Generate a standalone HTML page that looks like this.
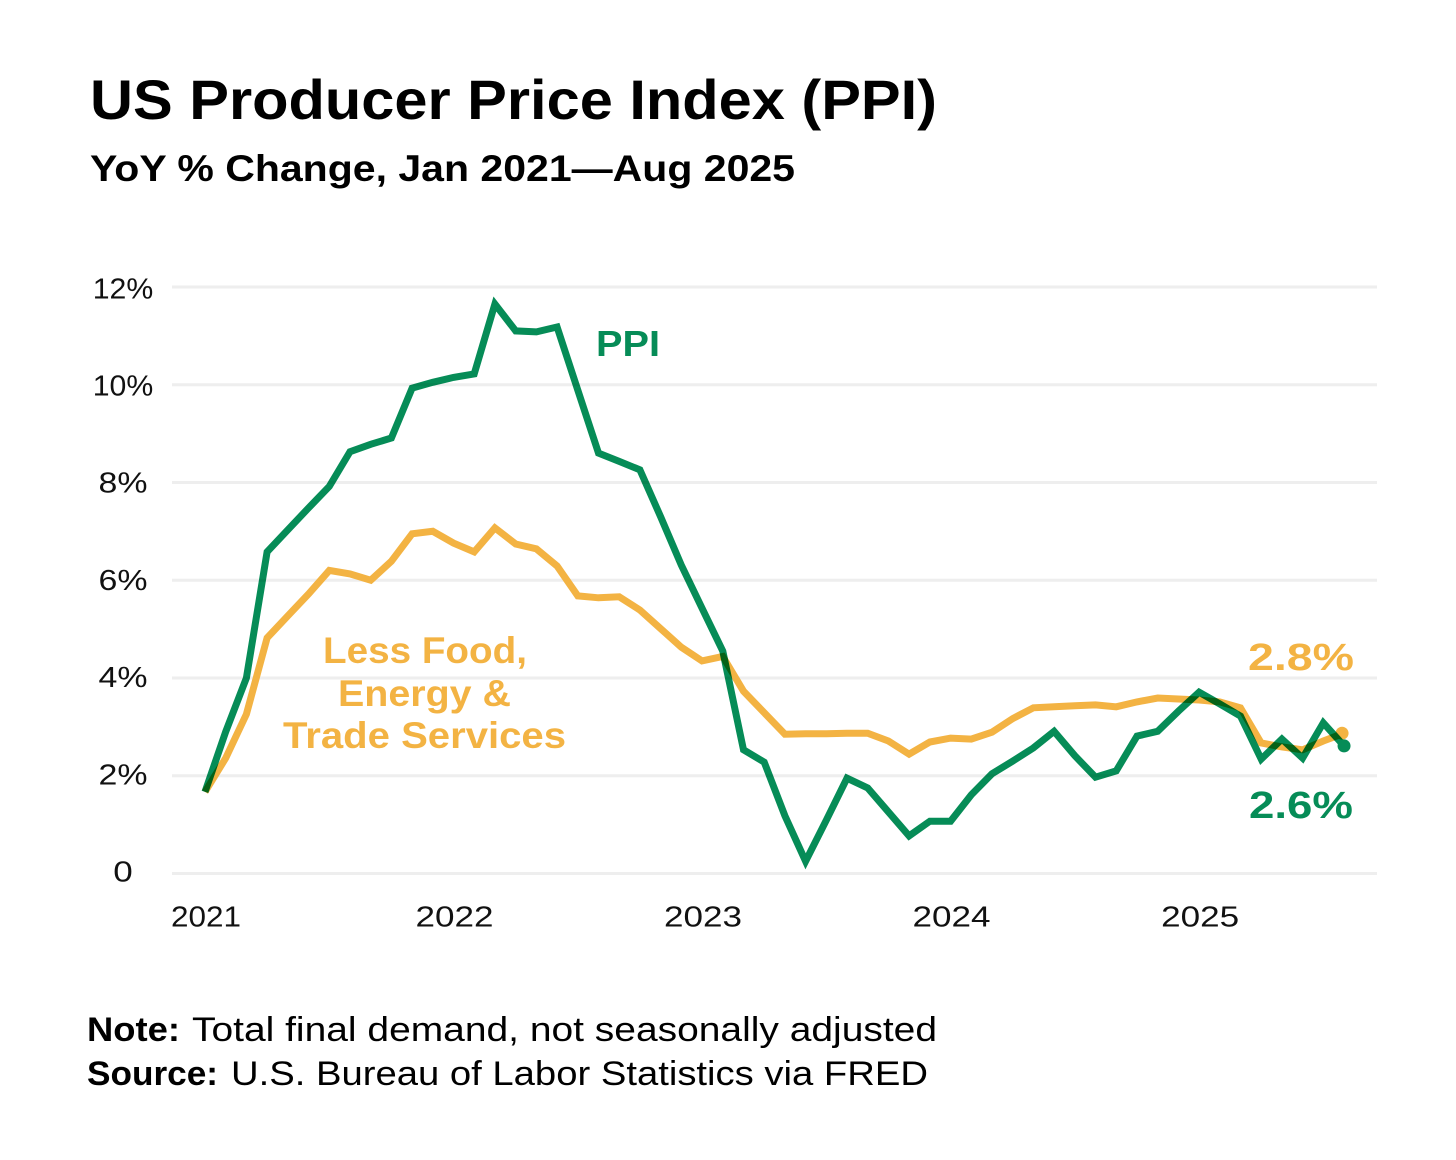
<!DOCTYPE html>
<html lang="en">
<head>
<meta charset="utf-8">
<title>US Producer Price Index (PPI)</title>
<style>
  html, body { margin: 0; padding: 0; background: #ffffff; }
  svg { display: block; }
  text { font-family: "Liberation Sans", sans-serif; }
  .bold { font-weight: 700; }
  .tick { font-size: 29px; fill: #111111; }
</style>
</head>
<body>
<svg id="chart" xmlns="http://www.w3.org/2000/svg" width="1456" height="1160" viewBox="0 0 1456 1160">
  <rect x="0" y="0" width="1456" height="1160" fill="#ffffff"/>
  <text class="bold" x="90" y="119" font-size="56" fill="#000000" textLength="847" lengthAdjust="spacingAndGlyphs">US Producer Price Index (PPI)</text>
  <text class="bold" x="90" y="181" font-size="37" fill="#000000" textLength="705" lengthAdjust="spacingAndGlyphs">YoY % Change, Jan 2021—Aug 2025</text>
  <g id="grid"></g>
  <g id="y-ticks"></g>
  <g id="x-ticks"></g>
  <g id="series"></g>
  <text class="bold" x="596" y="356" font-size="36" fill="#068c57" textLength="64" lengthAdjust="spacingAndGlyphs">PPI</text>
  <text class="bold" x="323" y="663" font-size="37" fill="#f3b343" textLength="204" lengthAdjust="spacingAndGlyphs">Less Food,</text>
  <text class="bold" x="338" y="706" font-size="37" fill="#f3b343" textLength="173" lengthAdjust="spacingAndGlyphs">Energy &amp;</text>
  <text class="bold" x="283" y="748" font-size="37" fill="#f3b343" textLength="283" lengthAdjust="spacingAndGlyphs">Trade Services</text>
  <text class="bold" x="1248" y="670" font-size="38" fill="#f3b343" textLength="106" lengthAdjust="spacingAndGlyphs">2.8%</text>
  <text class="bold" x="1249" y="818" font-size="38" fill="#068c57" textLength="104" lengthAdjust="spacingAndGlyphs">2.6%</text>
  <text class="bold" x="87" y="1041" font-size="34" fill="#000000" textLength="93" lengthAdjust="spacingAndGlyphs">Note:</text>
  <text x="192" y="1041" font-size="34" fill="#000000" textLength="745" lengthAdjust="spacingAndGlyphs">Total final demand, not seasonally adjusted</text>
  <text class="bold" x="87" y="1085" font-size="34" fill="#000000" textLength="131" lengthAdjust="spacingAndGlyphs">Source:</text>
  <text x="231" y="1085" font-size="34" fill="#000000" textLength="697" lengthAdjust="spacingAndGlyphs">U.S. Bureau of Labor Statistics via FRED</text>
</svg>
<script>
const yTickValues = [0, 2, 4, 6, 8, 10, 12];
const yTickLabels = ["0", "2%", "4%", "6%", "8%", "10%", "12%"];
const xTickMonths = [0, 12, 24, 36, 48];
const xTickLabels = ["2021", "2022", "2023", "2024", "2025"];
const ppiValues = [
  1.67, 2.9, 4.0, 6.58, 7.03, 7.48, 7.92, 8.63, 8.78, 8.91, 9.93, 10.05,
  10.15, 10.22, 11.65, 11.1, 11.08, 11.18, 9.89, 8.6, 8.43, 8.26, 7.3, 6.31,
  5.43, 4.55, 2.53, 2.28, 1.18, 0.25, 1.09, 1.95, 1.75, 1.26, 0.77, 1.07,
  1.07, 1.61, 2.04, 2.3, 2.57, 2.91, 2.41, 1.97, 2.1, 2.81, 2.91, 3.32,
  3.71, 3.47, 3.22, 2.34, 2.75, 2.36, 3.08, 2.61
];
const coreValues = [
  1.67, 2.36, 3.26, 4.82, 5.27, 5.72, 6.2, 6.13, 6.0, 6.39, 6.95, 7.0,
  6.76, 6.58, 7.07, 6.74, 6.64, 6.29, 5.68, 5.64, 5.66, 5.39, 5.01, 4.63,
  4.35, 4.44, 3.73, 3.29, 2.85, 2.86, 2.86, 2.87, 2.87, 2.71, 2.44, 2.69,
  2.77, 2.75, 2.89, 3.17, 3.39, 3.41, 3.43, 3.45, 3.41, 3.51, 3.59, 3.57,
  3.55, 3.51, 3.39, 2.67, 2.59, 2.53, 2.71, 2.87
];

const SVG_NS = "http://www.w3.org/2000/svg";
const plotLeft = 172, plotRight = 1377;
const xStart = 205, monthStep = 20.71;
const yZero = 873.5, unitHeight = 48.88;
const xScale = function (m) { return xStart + monthStep * m; };
const yScale = function (v) { return yZero - unitHeight * v; };
const yLabelScale = function (v) { return 881.5 - 48.6 * v; };

function make(tag, attrs, parent) {
  const el = document.createElementNS(SVG_NS, tag);
  Object.keys(attrs).forEach(function (k) { el.setAttribute(k, attrs[k]); });
  parent.appendChild(el);
  return el;
}
function labelWidth(label) {
  let w = 0;
  for (const c of label) { w += c === "1" ? 11.5 : c === "%" ? 29.5 : 19.5; }
  return w;
}

const gridGroup = document.getElementById("grid");
const yGroup = document.getElementById("y-ticks");
const xGroup = document.getElementById("x-ticks");
const seriesGroup = document.getElementById("series");

yTickValues.forEach(function (v, i) {
  const line = make("line", { x1: plotLeft, x2: plotRight, y1: yScale(v), y2: yScale(v), stroke: "#eeeeee", "stroke-width": 3 }, gridGroup);
  
  
  const t = make("text", { x: 123, y: yLabelScale(v), "text-anchor": "middle", class: "tick", textLength: labelWidth(yTickLabels[i]), lengthAdjust: "spacingAndGlyphs" }, yGroup);
  
  
  t.textContent = yTickLabels[i];
});

xTickMonths.forEach(function (m, i) {
  const t = make("text", { x: xScale(m) + 1, y: 926.5, "text-anchor": "middle", class: "tick", textLength: labelWidth(xTickLabels[i]), lengthAdjust: "spacingAndGlyphs" }, xGroup);
  
  
  t.textContent = xTickLabels[i];
});

function pointsOf(values) {
  return values.map(function (v, i) { return xScale(i).toFixed(1) + "," + yScale(v).toFixed(1); }).join(" ");
}

const coreLine = make("polyline", { points: pointsOf(coreValues), fill: "none", stroke: "#f3b343", "stroke-width": 7, "stroke-linejoin": "miter", "stroke-miterlimit": 3 }, seriesGroup);


const coreDot = make("circle", { cx: xScale(coreValues.length - 1) - 2, cy: yScale(coreValues[coreValues.length - 1]), r: 6.5, fill: "#f3b343" }, seriesGroup);



const ppiLine = make("polyline", { points: pointsOf(ppiValues), fill: "none", stroke: "#068c57", "stroke-width": 7, "stroke-linejoin": "miter", "stroke-miterlimit": 3, style: "mix-blend-mode:multiply" }, seriesGroup);


const ppiDot = make("circle", { cx: xScale(ppiValues.length - 1), cy: yScale(ppiValues[ppiValues.length - 1]), r: 6.5, fill: "#068c57" }, seriesGroup);


</script>
</body>
</html>
